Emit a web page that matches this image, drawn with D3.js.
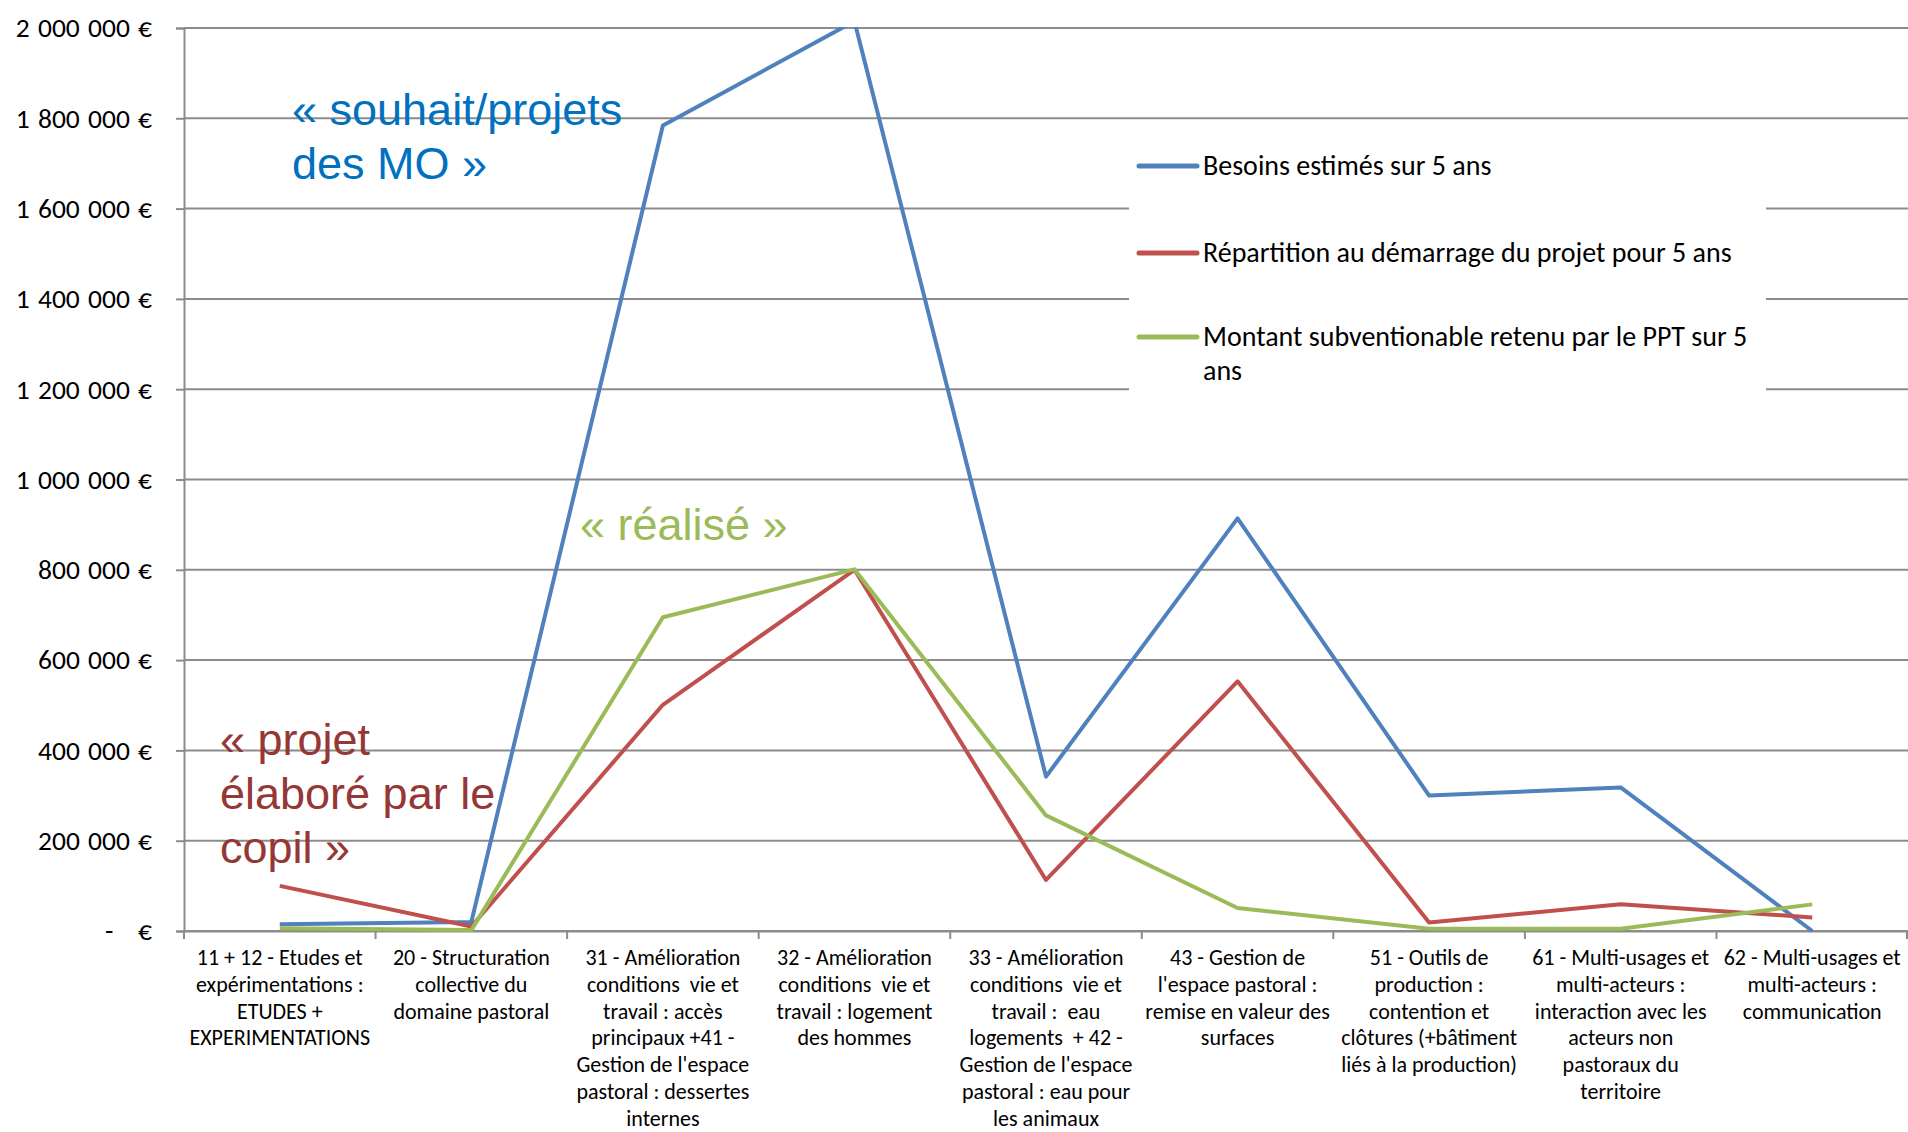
<!DOCTYPE html>
<html>
<head>
<meta charset="utf-8">
<script src="https://cdn.jsdelivr.net/npm/d3@7"></script>
<style>
  body { margin: 0; background: #fff; }
  svg { display: block; }
  .calibri { font-family: Carlito, Calibri, sans-serif; fill: #000; }
  .arial { font-family: "Liberation Sans", Arial, sans-serif; }
</style>
</head>
<body>
<svg id="chart_svg" width="1908" height="1132"></svg>
<script>
/**
 * Data
 */
const categories = ["11+12", "20", "31+41", "32", "33+42", "43", "51", "61", "62"]

const category_labels = [
  ["11 + 12 - Etudes et", "expérimentations :", "ETUDES +", "EXPERIMENTATIONS"],
  ["20 - Structuration", "collective du", "domaine pastoral"],
  ["31 - Amélioration", "conditions  vie et", "travail : accès", "principaux +41 -", "Gestion de l'espace", "pastoral : dessertes", "internes"],
  ["32 - Amélioration", "conditions  vie et", "travail : logement", "des hommes"],
  ["33 - Amélioration", "conditions  vie et", "travail :  eau", "logements  + 42 -", "Gestion de l'espace", "pastoral : eau pour", "les animaux"],
  ["43 - Gestion de", "l'espace pastoral :", "remise en valeur des", "surfaces"],
  ["51 - Outils de", "production :", "contention et", "clôtures (+bâtiment", "liés à la production)"],
  ["61 - Multi-usages et", "multi-acteurs :", "interaction avec les", "acteurs non", "pastoraux du", "territoire"],
  ["62 - Multi-usages et", "multi-acteurs :", "communication"],
]

const besoins = [15000, 20000, 1784000, 2015000, 342000, 914000, 300000, 318000, 0]
const repartition = [100000, 10000, 501000, 800000, 113000, 553000, 19000, 59000, 30000]
const montant = [6000, 2000, 695000, 801000, 256000, 51000, 5000, 5000, 59000]

const series_labels = [
  ["Besoins estimés sur 5 ans"],
  ["Répartition au démarrage du projet pour 5 ans"],
  ["Montant subventionable retenu par le PPT sur 5", "ans"],
]
const series_colors = ["#4F81BD", "#C0504D", "#9BBB59"]

const y_ticks = [0, 200000, 400000, 600000, 800000, 1000000, 1200000, 1400000, 1600000, 1800000, 2000000]

const annotation_texts = [
  ["« souhait/projets", "des MO »"],
  ["« réalisé »"],
  ["« projet", "élaboré par le", "copil »"],
]
const annotation_colors = ["#0070C0", "#9BBB59", "#953735"]

const series = [besoins, repartition, montant]

/**
 * Margins of the visualization.
 */
const margin = {
  top: 28,
  bottom: 201,
  left: 184,
  right: 0,
}

let svg = d3.select("#chart_svg")
let width = parseInt(svg.attr("width"))
let height = parseInt(svg.attr("height"))

/**
 * Scales
 */
const xScale = d3
  .scaleBand()
  .domain(categories)
  .range([margin.left, width - margin.right])
  .padding(0)

const yScale = d3
  .scaleLinear()
  .domain([0, 2000000])
  .range([height - margin.bottom, margin.top])

const grid_color = "#8C8C8C"

/**
 * y axis with euro labels ("-  €" for zero, like Excel's accounting format)
 */
const fmt = d3.formatLocale({ decimal: ",", thousands: "\u00a0", grouping: [3], currency: ["", ""] }).format(",.0f")
const euro = d => d === 0 ? "-\u00a0\u00a0\u00a0€" : fmt(d) + "\u00a0€"

svg.append("g")
  .attr("transform", "translate(" + margin.left + ",0)")
  .call(d3.axisLeft(yScale).tickValues(y_ticks).tickSize(8).tickPadding(24).tickFormat(euro))
  .call(g => g.select(".domain").attr("stroke", grid_color).attr("stroke-width", 2))
  .call(g => g.selectAll(".tick line").attr("stroke", grid_color).attr("stroke-width", 2))
  .call(g => g.selectAll(".tick text")
    .attr("class", "calibri")
    .style("font-size", "27.5px")
    .style("word-spacing", "2px"))

// horizontal gridlines
svg.append("g")
  .selectAll(".grid")
  .data(y_ticks)
  .enter()
  .append("line")
  .attr("class", "grid")
  .attr("x1", margin.left)
  .attr("x2", width - margin.right)
  .attr("y1", d => yScale(d))
  .attr("y2", d => yScale(d))
  .attr("stroke", grid_color)
  .attr("stroke-width", 2)

/**
 * x axis
 */
let g_x = svg.append("g")
  .attr("transform", "translate(0," + yScale(0) + ")")
  .call(d3.axisBottom(xScale).tickSize(0).tickFormat(""))
  .call(g => g.select(".domain").attr("stroke", grid_color).attr("stroke-width", 2))

// tick marks at the band boundaries
const boundaries = categories.map(c => xScale(c)).concat([xScale.range()[1] - 1])

g_x.selectAll(".bound")
  .data(boundaries)
  .enter()
  .append("line")
  .attr("class", "bound")
  .attr("x1", d => d)
  .attr("x2", d => d)
  .attr("y1", 0)
  .attr("y2", 8)
  .attr("stroke", grid_color)
  .attr("stroke-width", 2)

// category labels
let x_labels = svg.append("g")
  .selectAll(".x_label")
  .data(category_labels)
  .enter()
  .append("text")
  .attr("class", "x_label calibri")
  .attr("text-anchor", "middle")
  .style("font-size", "22px")
  .attr("transform", (d, i) => "translate(" + (xScale(categories[i]) + xScale.bandwidth() / 2) + "," + (yScale(0) + 34) + ")")

x_labels.selectAll("tspan")
  .data(d => d)
  .enter()
  .append("tspan")
  .attr("x", 0)
  .attr("y", (d, i) => i * 26.8)
  .style("white-space", "pre")
  .text(d => d)

/**
 * Legend
 */
let legend = svg.append("g")

legend.append("rect")
  .attr("x", 1129)
  .attr("y", 136)
  .attr("width", 637)
  .attr("height", 258)
  .attr("fill", "#fff")

const legend_y = [166, 253, 337]

let legend_items = legend.selectAll(".legend_item")
  .data(series_labels)
  .enter()
  .append("g")
  .attr("class", "legend_item")
  .attr("transform", (d, i) => "translate(1139," + legend_y[i] + ")")

legend_items.append("line")
  .attr("x1", 0)
  .attr("x2", 58)
  .attr("stroke", (d, i) => series_colors[i])
  .attr("stroke-width", 5)
  .attr("stroke-linecap", "round")

legend_items.append("text")
  .attr("class", "calibri")
  .style("font-size", "28px")
  .selectAll("tspan")
  .data(d => d)
  .enter()
  .append("tspan")
  .attr("x", 64)
  .attr("y", (d, i) => 9 + i * 34)
  .text(d => d)

/**
 * Series lines (clipped to the plot area)
 */
svg.append("clipPath")
  .attr("id", "plot_clip")
  .append("rect")
  .attr("x", margin.left)
  .attr("y", margin.top - 1)
  .attr("width", width - margin.left - margin.right)
  .attr("height", height - margin.top - margin.bottom + 10)

const line = d3.line()
  .x((d, i) => xScale(categories[i]) + xScale.bandwidth() / 2)
  .y(d => yScale(d))

svg.append("g")
  .attr("clip-path", "url(#plot_clip)")
  .selectAll(".series")
  .data(series)
  .enter()
  .append("path")
  .attr("class", "series")
  .attr("d", d => line(d))
  .attr("fill", "none")
  .attr("stroke", (d, i) => series_colors[i])
  .attr("stroke-width", 4)
  .attr("stroke-linejoin", "round")

/**
 * Annotations
 */
const annotation_pos = [[292, 125], [580, 540], [220, 755]]

svg.append("g")
  .selectAll(".annotation")
  .data(annotation_texts)
  .enter()
  .append("text")
  .attr("class", "annotation arial")
  .style("font-size", "45px")
  .attr("fill", (d, i) => annotation_colors[i])
  .attr("transform", (d, i) => "translate(" + annotation_pos[i][0] + "," + annotation_pos[i][1] + ")")
  .selectAll("tspan")
  .data(d => d)
  .enter()
  .append("tspan")
  .attr("x", 0)
  .attr("y", (d, i) => i * 54)
  .text(d => d)
</script>
</body>
</html>
